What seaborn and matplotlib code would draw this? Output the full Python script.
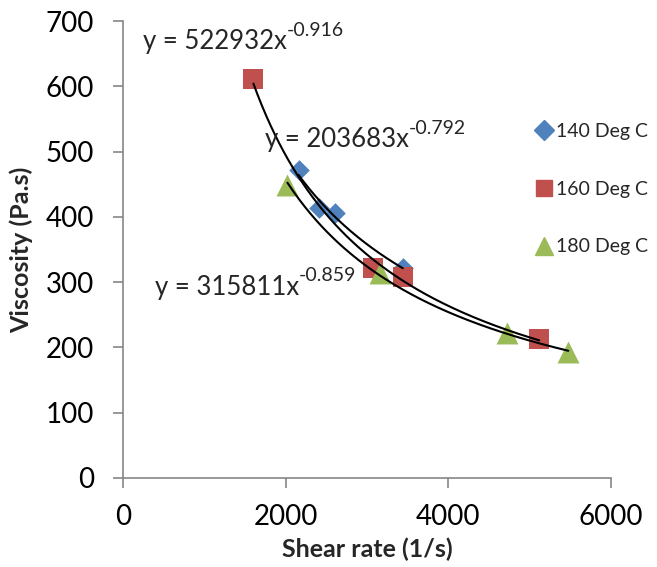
import numpy as np
import pandas as pd
import seaborn as sns
import matplotlib
matplotlib.use("Agg")
import matplotlib.pyplot as plt
from matplotlib.lines import Line2D

# ---- data ----
series_names = ["140 Deg C", "160 Deg C", "180 Deg C"]
shear_140 = [2158, 2404, 2602, 3440]
visc_140 = [472, 413, 406, 322]
shear_160 = [1603, 3070, 3440, 5117]
visc_160 = [611, 322, 308, 213]
shear_180 = [2022, 3157, 4722, 5475]
visc_180 = [449, 314, 222, 193]
equations = ["y = 522932x", "y = 203683x", "y = 315811x"]
exponents = ["-0.916", "-0.792", "-0.859"]
x_ticks = [0, 2000, 4000, 6000]
y_ticks = [0, 100, 200, 300, 400, 500, 600, 700]

df = pd.DataFrame({
    "shear": shear_140 + shear_160 + shear_180,
    "visc": visc_140 + visc_160 + visc_180,
    "series": [series_names[0]] * len(shear_140) + [series_names[1]] * len(shear_160)
              + [series_names[2]] * len(shear_180),
})

sns.set_theme(style="white")
plt.rcParams["font.family"] = ["Lato", "DejaVu Sans"]

colors = {"140 Deg C": "#4F81BD", "160 Deg C": "#C0504D", "180 Deg C": "#9BBB59"}
markers = {"140 Deg C": "D", "160 Deg C": "s", "180 Deg C": "^"}
sizes = {"140 Deg C": 110, "160 Deg C": 220, "180 Deg C": 250}

fig = plt.figure(figsize=(6.57, 5.67), dpi=100)
ax = fig.add_axes([123 / 657, 1 - 478 / 567, (611 - 123) / 657, (478 - 21) / 567])

for name in series_names:
    sub = df[df["series"] == name]
    sns.scatterplot(data=sub, x="shear", y="visc", color=colors[name],
                    marker=markers[name], s=sizes[name], linewidth=0,
                    ax=ax, legend=False, zorder=3)

# power-law trendlines fitted on the data
for name in series_names:
    sub = df[df["series"] == name]
    b, lna = np.polyfit(np.log(sub["shear"]), np.log(sub["visc"]), 1)
    xs = np.linspace(sub["shear"].min(), sub["shear"].max(), 200)
    ax.plot(xs, np.exp(lna) * xs ** b, color="black", lw=1.5, zorder=4)

ax.set_xlim(0, 6000)
ax.set_ylim(0, 700)
ax.set_xticks(x_ticks)
ax.set_yticks(y_ticks)
ax.tick_params(axis="both", labelsize=20, colors="#868686", labelcolor="black",
               direction="out", length=7, width=1.2, left=True, bottom=True)
ax.tick_params(axis="x", pad=12)
ax.tick_params(axis="y", pad=14)
for side in ["top", "right"]:
    ax.spines[side].set_visible(False)
for side in ["left", "bottom"]:
    ax.spines[side].set_color("#868686")
    ax.spines[side].set_linewidth(1.2)

ax.set_xlabel("Shear rate (1/s)", fontsize=18, fontweight="bold", labelpad=0)
ax.set_ylabel("Viscosity (Pa.s)", fontsize=18, fontweight="bold", labelpad=4)
ax.xaxis.set_label_coords(0.5, -(549 - 478) / (478 - 21))
ax.yaxis.set_label_coords(-(123 - 21) / (611 - 123), 0.5)
ax.xaxis.label.set_va("center")
ax.yaxis.label.set_va("center")

# trendline equations (base text + superscript exponent)
eq_pos = [(143, 42), (265, 140), (155, 287)]
for (px, py), eq, ex in zip(eq_pos, equations, exponents):
    t = fig.text(px / 657, 1 - py / 567, eq, fontsize=18.5, ha="left", va="center")
    ax.annotate(ex, xy=(1.0, 0.62), xycoords=t, fontsize=14,
                ha="left", va="bottom", annotation_clip=False)

# legend
handles = [Line2D([], [], linestyle="none", marker=markers[n], color=colors[n],
                  markersize={"140 Deg C": 10, "160 Deg C": 12, "180 Deg C": 13}[n])
           for n in series_names]
fig.legend(handles, series_names, loc="upper left",
           bbox_to_anchor=(523 / 657, 1 - 113 / 567), frameon=False, fontsize=14,
           handletextpad=0.0, labelspacing=2.1, handlelength=1.2, borderpad=0)

fig.savefig("out.png", dpi=100)
